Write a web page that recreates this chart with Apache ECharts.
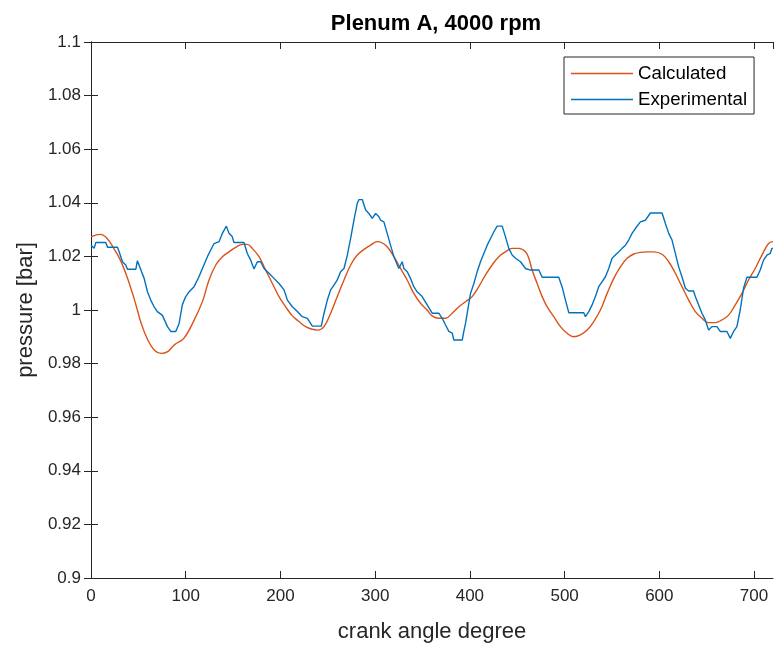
<!DOCTYPE html>
<html><head><meta charset="utf-8">
<script src="https://cdn.jsdelivr.net/npm/echarts@6/dist/echarts.min.js"></script>
<style>html,body{margin:0;padding:0;background:#fff}#c{width:775px;height:653px}</style>
</head><body><div id="c"></div>
<script>
const titleText = 'Plenum A, 4000 rpm';
const xName = 'crank angle degree';
const yName = 'pressure [bar]';
const seriesNames = ['Calculated', 'Experimental'];

const calcAngle = [0,10,17,24,31,38,46,53,60,67,74,81,88,98,109,118,124.6,131.7,138.7,145.7,152.8,159.8,164.9,170.3,177.4,184.4,191.5,198.5,205.5,212.6,219.6,226.6,233.7,239,246,253,260,267.1,274.1,281.1,288.2,295.2,302.2,307.5,312.7,319.8,326.8,333.8,340.8,347.9,354.9,360.2,367.2,374.3,381.3,388.4,395.4,402.4,409.4,416.5,423.5,430.5,437.6,444.6,451.6,458.7,462.2,465.7,471,476.3,481.6,488.6,495.6,502.7,509.7,516.7,523.8,530.8,537.8,544.9,551.9,558.9,566,573,580,587.1,594.1,602.9,609.9,616.9,623.9,631,638,645,652,659.1,666.1,673.1,680.2,687.2,694.2,701.2,708.3,715.3,720];
const calcPressure = [1.0273,1.0282,1.0267,1.023,1.0186,1.0124,1.0037,0.995,0.9888,0.985,0.9838,0.9845,0.987,0.9894,0.9963,1.0035,1.0112,1.0168,1.0199,1.0217,1.0234,1.0245,1.0245,1.023,1.0199,1.0149,1.0099,1.005,1.0012,0.9978,0.9957,0.9938,0.9928,0.9925,0.9938,0.9988,1.005,1.0112,1.0168,1.0205,1.0226,1.0242,1.0255,1.025,1.0236,1.0199,1.0155,1.0112,1.0062,1.0025,1.0,0.9978,0.9969,0.9969,0.9988,1.0012,1.0031,1.005,1.0087,1.0131,1.0168,1.0199,1.0217,1.023,1.023,1.0217,1.0193,1.0149,1.0099,1.005,1.0012,0.9975,0.9938,0.9913,0.99,0.9907,0.9925,0.9957,1.0,1.0062,1.0118,1.0161,1.0193,1.0209,1.0215,1.0217,1.0217,1.0208,1.018,1.0137,1.0087,1.0037,0.9994,0.9969,0.9953,0.9953,0.9963,0.9981,1.0019,1.0062,1.0112,1.0155,1.0205,1.0248,1.0255];

const expAngle = [0,3.3,5.1,15.6,17.4,27.9,29.7,33.2,36.7,38.5,47.3,49,52.6,56.1,59.6,63.1,66.6,70.1,75.4,80.7,84.2,89.5,93,96.5,100,103.5,108.8,114,117.6,122.9,126.4,129.9,135.2,138.7,142.9,145.7,149.2,150.9,161.5,165,168.6,172.1,175.6,179.1,182.7,187.9,193.2,198.5,203.8,207.3,212.6,217.9,223.1,228.4,233.7,243.1,246,249.5,253,256.5,260,263.5,267.1,270.6,274.1,277.6,281.1,282.9,286.4,289.9,293.4,296.9,300.5,304,305.7,309.2,312.7,316.2,319.8,325,328.5,330.3,333.8,337.3,340.8,344.3,349.6,354.9,360.2,367.2,370.8,374.3,377.8,381.3,383.1,391.9,393.6,395.4,397.2,398.9,400.7,404.2,407.7,411.2,414.7,418.3,421.8,425.3,428.8,434.1,437.6,441.1,444.6,448.2,453.4,458.7,464,472.8,476.3,481.6,493.8,497.3,500.9,504.4,520.2,522,525.5,529,532.5,536,539.6,543.1,546.6,550.1,553.6,557.2,560.7,564.2,567.7,571.2,574.7,580,585.3,590.6,602.9,606.4,609.9,613.4,616.9,620.4,623.9,627.5,631,636.2,638,641.5,645,648.5,652,655.6,660.8,664.3,671.4,674.9,678.4,681.9,685.4,688.9,692.5,703,706.5,710,713.6,717.1,718.8,720];
const expPressure = [1.0242,1.023,1.0252,1.0252,1.0234,1.0234,1.0217,1.018,1.0168,1.0152,1.0152,1.0184,1.015,1.0118,1.0068,1.0037,1.0012,0.9994,0.998,0.9938,0.992,0.992,0.995,1.002,1.005,1.0068,1.0087,1.0124,1.0155,1.0199,1.0224,1.0248,1.0255,1.0286,1.0313,1.0286,1.0273,1.0252,1.0252,1.0211,1.0186,1.0153,1.018,1.018,1.0155,1.0137,1.0118,1.0099,1.0075,1.0037,1.0012,0.9994,0.9975,0.9969,0.994,0.994,0.9988,1.0037,1.0075,1.0093,1.0112,1.0143,1.0155,1.0205,1.0267,1.0335,1.0398,1.0412,1.0412,1.0373,1.036,1.0342,1.036,1.0348,1.0335,1.0329,1.0286,1.0242,1.0199,1.0155,1.018,1.0155,1.0143,1.0118,1.0087,1.0068,1.005,1.0019,0.9988,0.9988,0.9969,0.9944,0.992,0.9914,0.9888,0.9888,0.992,0.995,0.9988,1.0025,1.0062,1.0099,1.0143,1.018,1.0211,1.0242,1.0267,1.0292,1.0313,1.0313,1.0273,1.023,1.0205,1.0193,1.018,1.0155,1.0149,1.0149,1.0122,1.0122,1.0122,1.0087,1.0037,0.999,0.999,0.9975,0.9994,1.0019,1.005,1.0087,1.0106,1.0124,1.0155,1.0193,1.0205,1.0217,1.023,1.0242,1.0261,1.0286,1.0304,1.0329,1.0335,1.0362,1.0362,1.0323,1.0286,1.0261,1.0211,1.0161,1.0124,1.0081,1.0071,1.0071,1.005,1.0019,0.9988,0.9963,0.9925,0.9938,0.9938,0.992,0.992,0.9894,0.992,0.9938,1.0,1.0081,1.0122,1.0122,1.0149,1.0186,1.0205,1.0211,1.023,1.023];

const xMin = 0, xMax = 720, xStep = 100;
const yMin = 0.9, yMax = 1.1, yStep = 0.02;

const FONT = "'Liberation Sans', Arial, sans-serif";
const AX = '#262626';
const chart = echarts.init(document.getElementById('c'), null, {renderer: 'canvas'});
const zip = (a, b) => a.map((v, i) => [v, b[i]]);
const yFmt = v => String(parseFloat(Number(v).toFixed(2)));

const baseX = {
  type: 'value', min: xMin, max: xMax, interval: xStep,
  axisLine: {show: true, lineStyle: {color: AX, width: 1}},
  axisTick: {show: true, inside: true, length: 7, lineStyle: {color: AX}},
  splitLine: {show: false}
};
const baseY = {
  type: 'value', min: yMin, max: yMax, interval: yStep,
  axisLine: {show: true, lineStyle: {color: AX, width: 1}},
  axisTick: {show: true, inside: true, length: 7, lineStyle: {color: AX}},
  splitLine: {show: false}
};

chart.setOption({
  backgroundColor: '#fff',
  animation: false,
  title: {
    text: titleText, left: 431, top: 8, textAlign: 'center',
    textStyle: {fontFamily: FONT, fontSize: 22, fontWeight: 'bold', color: '#000'}
  },
  grid: {left: 91, right: 2, top: 42, bottom: 75, containLabel: false},
  legend: {
    data: seriesNames, orient: 'vertical', left: 564, top: 57,
    icon: 'rect', itemWidth: 62, itemHeight: 1.5, itemGap: 7,
    padding: [7, 7, 5, 7],
    borderColor: AX, borderWidth: 1, backgroundColor: '#fff',
    textStyle: {fontFamily: FONT, fontSize: 18.7, lineHeight: 19, color: '#000'}
  },
  xAxis: [
    Object.assign({}, baseX, {
      position: 'bottom',
      name: xName, nameLocation: 'middle', nameGap: 43,
      nameTextStyle: {fontFamily: FONT, fontSize: 22, color: AX},
      axisLabel: {show: true, margin: 10, fontFamily: FONT, fontSize: 17, color: AX}
    }),
    Object.assign({}, baseX, {position: 'top', axisLabel: {show: false}})
  ],
  yAxis: [
    Object.assign({}, baseY, {
      position: 'left',
      name: yName, nameLocation: 'middle', nameGap: 46, nameRotate: 90,
      nameTextStyle: {fontFamily: FONT, fontSize: 22, color: AX},
      axisLabel: {show: true, margin: 10, fontFamily: FONT, fontSize: 17, color: AX, formatter: yFmt}
    }),
    Object.assign({}, baseY, {position: 'right', axisLabel: {show: false}})
  ],
  series: [
    {
      name: seriesNames[0], type: 'line', smooth: 0.4, symbol: 'none',
      data: zip(calcAngle, calcPressure),
      lineStyle: {color: '#D95319', width: 1.4}, itemStyle: {color: '#D95319'}, z: 2
    },
    {
      name: seriesNames[1], type: 'line', symbol: 'none',
      data: zip(expAngle, expPressure),
      lineStyle: {color: '#0072BD', width: 1.4}, itemStyle: {color: '#0072BD'}, z: 3
    }
  ]
});
</script></body></html>
